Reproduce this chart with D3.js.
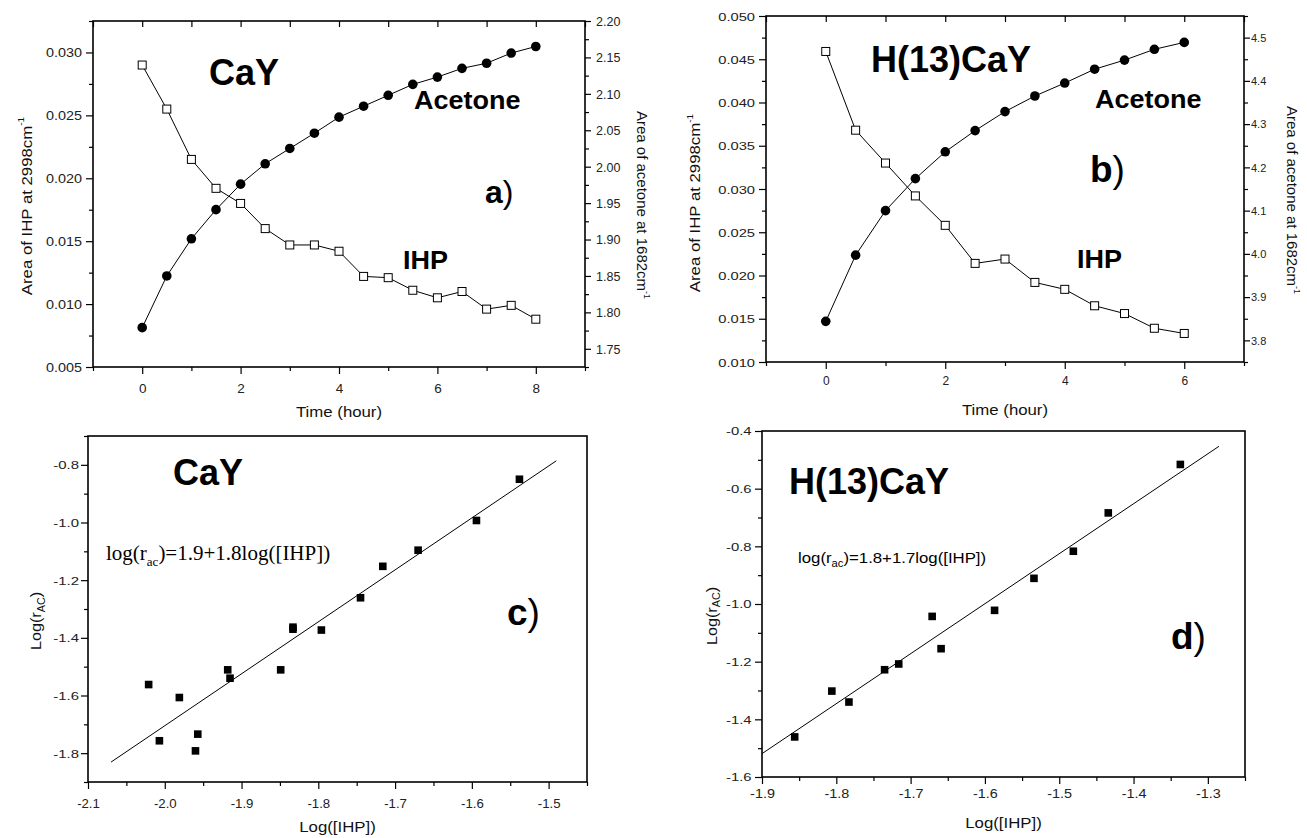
<!DOCTYPE html>
<html><head><meta charset="utf-8">
<script src="https://cdn.jsdelivr.net/npm/d3@7"></script>
<style>
body{margin:0;background:#fff}
svg{display:block}
</style>
</head><body>
<svg id="chart" width="1307" height="838"></svg>
<script>
// ---------------- DATA ----------------
// Panel a (CaY): time course
const timeA = [0,0.5,1,1.5,2,2.5,3,3.5,4,4.5,5,5.5,6,6.5,7,7.5,8];
const ihpA = [0.0290,0.0255,0.0215,0.0192,0.0180,0.0160,0.0147,0.0147,0.0142,0.0122,0.0121,0.0111,0.0105,0.0110,0.0096,0.0099,0.0088];
const acetoneA = [1.779,1.850,1.901,1.941,1.976,2.004,2.025,2.046,2.068,2.083,2.098,2.113,2.123,2.135,2.142,2.156,2.165];
// Panel b (H(13)CaY): time course
const timeB = [0,0.5,1,1.5,2,2.5,3,3.5,4,4.5,5,5.5,6];
const ihpB = [0.0459,0.0368,0.0330,0.0292,0.0258,0.0214,0.0219,0.0192,0.0184,0.0165,0.0156,0.0139,0.0133];
const acetoneB = [3.844,3.997,4.100,4.174,4.236,4.285,4.329,4.365,4.395,4.427,4.448,4.473,4.489];
// Panel c (CaY): log-log
const logIhpC = [-2.021,-2.007,-1.981,-1.960,-1.957,-1.918,-1.915,-1.849,-1.833,-1.833,-1.796,-1.745,-1.716,-1.670,-1.594,-1.538];
const logRacC = [-1.562,-1.757,-1.607,-1.792,-1.734,-1.511,-1.540,-1.511,-1.363,-1.370,-1.373,-1.261,-1.152,-1.096,-0.993,-0.850];
const fitCx = [-2.07,-1.49];
const fitCy = [-1.831,-0.786];
// Panel d (H(13)CaY): log-log
const logIhpD = [-1.856,-1.806,-1.783,-1.735,-1.716,-1.671,-1.659,-1.587,-1.534,-1.481,-1.434,-1.337];
const logRacD = [-1.461,-1.302,-1.340,-1.228,-1.208,-1.043,-1.155,-1.022,-0.911,-0.817,-0.684,-0.516];
const fitDx = [-1.9,-1.285];
const fitDy = [-1.519,-0.453];

// ---------------- TICKS ----------------
const ticksAX = [0,2,4,6,8];
const ticksAL = [0.005,0.010,0.015,0.020,0.025,0.030];
const ticksAR = [1.75,1.80,1.85,1.90,1.95,2.00,2.05,2.10,2.15,2.20];
const ticksBX = [0,2,4,6];
const ticksBL = [0.010,0.015,0.020,0.025,0.030,0.035,0.040,0.045,0.050];
const ticksBR = [3.8,3.9,4.0,4.1,4.2,4.3,4.4,4.5];
const ticksCX = [-2.1,-2.0,-1.9,-1.8,-1.7,-1.6,-1.5];
const ticksCY = [-1.8,-1.6,-1.4,-1.2,-1.0,-0.8];
const ticksDX = [-1.9,-1.8,-1.7,-1.6,-1.5,-1.4,-1.3];
const ticksDY = [-1.6,-1.4,-1.2,-1.0,-0.8,-0.6,-0.4];

const fmt = s => v => d3.format(s)(v).replace("\u2212","-");
const svg = d3.select("#chart");
const FONT = "Arial, 'Liberation Sans', sans-serif";
const SERIF = "'Times New Roman', 'Liberation Serif', serif";

function axis(g, scale, orient, major, minor, o){
  const gen = {left:d3.axisLeft,right:d3.axisRight,bottom:d3.axisBottom,top:d3.axisTop}[orient];
  const gm = g.append("g");
  if (orient==="right") gm.attr("transform",`translate(${o.w},0)`);
  if (orient==="bottom") gm.attr("transform",`translate(0,${o.h})`);
  const dir = o.inward ? -1 : 1;
  if (minor){
    const mi = gm.append("g").call(gen(scale).tickValues(minor).tickSize(dir*o.mlen).tickFormat(""));
    mi.select(".domain").remove();
  }
  const ma = gm.append("g").call(gen(scale).tickValues(major).tickSize(dir*o.len).tickFormat(o.fmt || (()=>"")));
  ma.select(".domain").remove();
  gm.selectAll("line").attr("stroke","#000").attr("stroke-width",1.2);
  const st = o.st || 1;
  const t = ma.selectAll("text").attr("font-size",o.fs).attr("fill","#222").attr("font-family",FONT);
  if (orient==="left") t.attr("x",-o.gap/st).attr("dy","0.35em").attr("transform",`scale(${st},1)`);
  if (orient==="right") t.attr("x",o.gap/st).attr("dy","0.35em").attr("transform",`scale(${st},1)`);
  if (orient==="bottom") t.attr("y",o.base).attr("dy",0).attr("transform",`scale(${st},1)`);
}

function txt(x, y, parts, o){
  const st = o.st || 1;
  let tr = `translate(${x},${y})`;
  if (o.rot) tr += ` rotate(${o.rot})`;
  tr += ` scale(${st},1)`;
  const t = svg.append("text").attr("transform",tr)
    .attr("text-anchor",o.anchor||"start")
    .attr("font-family",o.family||FONT)
    .attr("font-size",o.size).attr("font-weight",o.weight||"normal").attr("fill",o.fill||"#000");
  parts.forEach(p=>{
    const ts = t.append("tspan").text(p.t);
    if (p.size) ts.attr("font-size",p.size);
    if (p.weight) ts.attr("font-weight",p.weight);
    if (p.dy) ts.attr("dy",p.dy);
  });
  return t;
}

function frame(g,w,h){
  g.append("rect").attr("width",w).attr("height",h).attr("fill","none").attr("stroke","#000").attr("stroke-width",1.6);
}

// ---------------- PANEL A ----------------
(function(){
  const ox=93, oy=21, w=492, h=346;
  const g = svg.append("g").attr("transform",`translate(${ox},${oy})`);
  const x = d3.scaleLinear().domain([-1,9]).range([0,w]);
  const yl = d3.scaleLinear().domain([0.005,0.0325]).range([h,0]);
  const yr = d3.scaleLinear().domain([1.725,2.20]).range([h,0]);
  axis(g,x,"bottom",ticksAX,[-1,1,3,5,7,9],{w,h,len:7,mlen:4,fmt:fmt("d"),fs:13.5,base:26});
  axis(g,x,"top",d3.range(-1,10,1),null,{w,h,len:6,inward:true});
  axis(g,yl,"left",ticksAL,d3.range(0.0075,0.033,0.005),{w,h,len:7,mlen:4,fmt:fmt(".3f"),fs:12,st:1.2,gap:11});
  axis(g,yr,"right",ticksAR,d3.range(1.725,2.19,0.05),{w,h,len:6,mlen:4,fmt:fmt(".2f"),fs:12.5,gap:11});
  frame(g,w,h);
  const lI = d3.line().x((d,i)=>x(timeA[i])).y(d=>yl(d));
  const lA = d3.line().x((d,i)=>x(timeA[i])).y(d=>yr(d));
  g.append("path").attr("d",lI(ihpA)).attr("fill","none").attr("stroke","#000").attr("stroke-width",1);
  g.append("path").attr("d",lA(acetoneA)).attr("fill","none").attr("stroke","#000").attr("stroke-width",1);
  g.selectAll(".sqA").data(ihpA).enter().append("rect")
    .attr("x",(d,i)=>x(timeA[i])-4).attr("y",d=>yl(d)-4).attr("width",8).attr("height",8)
    .attr("fill","#fff").attr("stroke","#000").attr("stroke-width",1);
  g.selectAll(".ciA").data(acetoneA).enter().append("circle")
    .attr("cx",(d,i)=>x(timeA[i])).attr("cy",d=>yr(d)).attr("r",4.8).attr("fill","#000");
})();
txt(209,85,[{t:"CaY"}],{size:36,weight:"bold"});
txt(414,109,[{t:"Acetone"}],{size:25,weight:"bold",st:1.08});
txt(403,269,[{t:"IHP"}],{size:25,weight:"bold",st:1.08});
txt(485,203,[{t:"a",weight:"bold"},{t:")"}],{size:32});
txt(339,417,[{t:"Time (hour)"}],{size:15,anchor:"middle",st:1.12,fill:"#111"});
txt(31.5,206,[{t:"Area of IHP at 2998cm"},{t:"-1",size:9,dy:"-0.8em"}],{size:15,anchor:"middle",rot:-90,st:1.12,fill:"#111"});
txt(637,205,[{t:"Area of acetone at 1682cm"},{t:"-1",size:9,dy:"-0.8em"}],{size:15,anchor:"middle",rot:90,st:1.0,fill:"#111"});

// ---------------- PANEL B ----------------
(function(){
  const ox=766, oy=16, w=478, h=346;
  const g = svg.append("g").attr("transform",`translate(${ox},${oy})`);
  const x = d3.scaleLinear().domain([-1,7]).range([0,w]);
  const yl = d3.scaleLinear().domain([0.010,0.050]).range([h,0]);
  const yr = d3.scaleLinear().domain([3.75,4.55]).range([h,0]);
  axis(g,x,"bottom",ticksBX,[-1,1,3,5,7],{w,h,len:7,mlen:4,fmt:fmt("d"),fs:12,base:23});
  axis(g,x,"top",d3.range(-1,8,1),null,{w,h,len:6,inward:true});
  axis(g,yl,"left",ticksBL,d3.range(0.0125,0.049,0.005),{w,h,len:7,mlen:4,fmt:fmt(".3f"),fs:11.5,st:1.28,gap:11});
  axis(g,yr,"right",ticksBR,d3.range(3.75,4.56,0.1),{w,h,len:6,mlen:4,fmt:fmt(".1f"),fs:11,gap:7});
  frame(g,w,h);
  const lI = d3.line().x((d,i)=>x(timeB[i])).y(d=>yl(d));
  const lA = d3.line().x((d,i)=>x(timeB[i])).y(d=>yr(d));
  g.append("path").attr("d",lI(ihpB)).attr("fill","none").attr("stroke","#000").attr("stroke-width",1);
  g.append("path").attr("d",lA(acetoneB)).attr("fill","none").attr("stroke","#000").attr("stroke-width",1);
  g.selectAll(".sqB").data(ihpB).enter().append("rect")
    .attr("x",(d,i)=>x(timeB[i])-4).attr("y",d=>yl(d)-4).attr("width",8).attr("height",8)
    .attr("fill","#fff").attr("stroke","#000").attr("stroke-width",1);
  g.selectAll(".ciB").data(acetoneB).enter().append("circle")
    .attr("cx",(d,i)=>x(timeB[i])).attr("cy",d=>yr(d)).attr("r",4.8).attr("fill","#000");
})();
txt(871,72,[{t:"H(13)CaY"}],{size:36,weight:"bold"});
txt(1095,108,[{t:"Acetone"}],{size:25,weight:"bold",st:1.08});
txt(1077,268,[{t:"IHP"}],{size:25,weight:"bold",st:1.08});
txt(1090,182,[{t:"b",weight:"bold"},{t:")"}],{size:37});
txt(1005,415,[{t:"Time (hour)"}],{size:15,anchor:"middle",st:1.12,fill:"#111"});
txt(700,203,[{t:"Area of IHP at 2998cm"},{t:"-1",size:9,dy:"-0.8em"}],{size:15,anchor:"middle",rot:-90,st:1.12,fill:"#111"});
txt(1287,200,[{t:"Area of acetone at 1682cm"},{t:"-1",size:9,dy:"-0.8em"}],{size:15,anchor:"middle",rot:90,st:1.0,fill:"#111"});

// ---------------- PANEL C ----------------
(function(){
  const ox=88, oy=436, w=499, h=346;
  const g = svg.append("g").attr("transform",`translate(${ox},${oy})`);
  const x = d3.scaleLinear().domain([-2.1,-1.45]).range([0,w]);
  const y = d3.scaleLinear().domain([-1.9,-0.7]).range([h,0]);
  axis(g,x,"bottom",ticksCX,d3.range(-2.05,-1.44,0.1),{w,h,len:7,mlen:4,fmt:fmt(".1f"),fs:12,st:1.1,base:26});
  axis(g,y,"left",ticksCY,d3.range(-1.9,-0.69,0.2),{w,h,len:7,mlen:4,fmt:fmt(".1f"),fs:11.5,st:1.3,gap:9});
  frame(g,w,h);
  const l = d3.line().x(d=>x(d[0])).y(d=>y(d[1]));
  g.append("path").attr("d",l(d3.zip(fitCx,fitCy))).attr("fill","none").attr("stroke","#000").attr("stroke-width",1);
  g.selectAll(".sqC").data(logRacC).enter().append("rect")
    .attr("x",(d,i)=>x(logIhpC[i])-3.8).attr("y",d=>y(d)-3.8).attr("width",7.6).attr("height",7.6).attr("fill","#000");
})();
txt(173,485,[{t:"CaY"}],{size:36,weight:"bold"});
txt(106,560,[{t:"log(r"},{t:"ac",size:13,dy:"0.45em"},{t:")=1.9+1.8log([IHP])",dy:"-0.3em"}],{size:21,family:SERIF});
txt(507,625,[{t:"c",weight:"bold"},{t:")"}],{size:37});
txt(337.5,832,[{t:"Log([IHP])"}],{size:15,anchor:"middle",st:1.12,fill:"#111"});
txt(41,621,[{t:"Log(r"},{t:"AC",size:10,dy:"0.35em"},{t:")",dy:"-0.23em"}],{size:15,anchor:"middle",rot:-90,st:1.08,fill:"#111"});

// ---------------- PANEL D ----------------
(function(){
  const ox=762, oy=431, w=483, h=346;
  const g = svg.append("g").attr("transform",`translate(${ox},${oy})`);
  const x = d3.scaleLinear().domain([-1.9,-1.25]).range([0,w]);
  const y = d3.scaleLinear().domain([-1.6,-0.4]).range([h,0]);
  axis(g,x,"bottom",ticksDX,d3.range(-1.85,-1.24,0.1),{w,h,len:7,mlen:4,fmt:fmt(".1f"),fs:12,st:1.2,base:21});
  axis(g,y,"left",ticksDY,d3.range(-1.5,-0.45,0.2),{w,h,len:7,mlen:4,fmt:fmt(".1f"),fs:11,st:1.35,gap:10.5});
  frame(g,w,h);
  const l = d3.line().x(d=>x(d[0])).y(d=>y(d[1]));
  g.append("path").attr("d",l(d3.zip(fitDx,fitDy))).attr("fill","none").attr("stroke","#000").attr("stroke-width",1);
  g.selectAll(".sqD").data(logRacD).enter().append("rect")
    .attr("x",(d,i)=>x(logIhpD[i])-3.8).attr("y",d=>y(d)-3.8).attr("width",7.6).attr("height",7.6).attr("fill","#000");
})();
txt(789,494,[{t:"H(13)CaY"}],{size:36,weight:"bold"});
txt(798,563,[{t:"log(r"},{t:"ac",size:10,dy:"0.4em"},{t:")=1.8+1.7log([IHP])",dy:"-0.27em"}],{size:15,st:1.12});
txt(1171,649,[{t:"d",weight:"bold"},{t:")"}],{size:37});
txt(1003.5,828,[{t:"Log([IHP])"}],{size:15,anchor:"middle",st:1.12,fill:"#111"});
txt(716.5,616,[{t:"Log(r"},{t:"AC",size:10,dy:"0.35em"},{t:")",dy:"-0.23em"}],{size:15,anchor:"middle",rot:-90,st:1.08,fill:"#111"});
</script>
</body></html>
